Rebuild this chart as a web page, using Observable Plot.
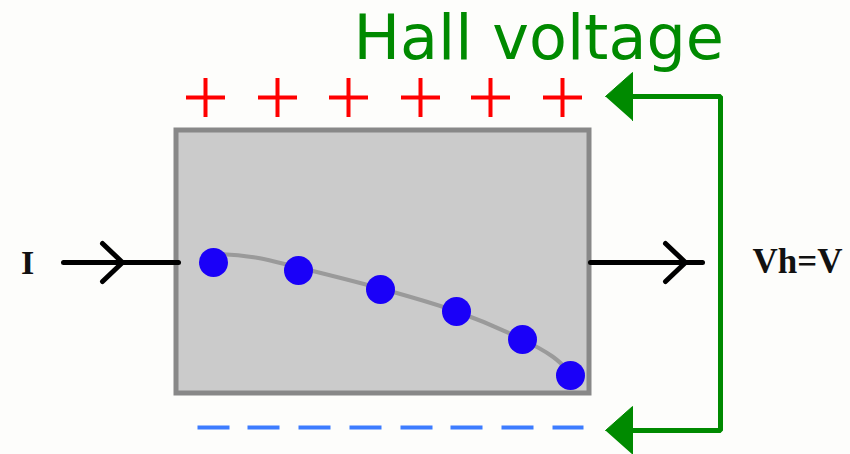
<!DOCTYPE html>
<html>
<head>
<meta charset="utf-8">
<script src="https://cdn.jsdelivr.net/npm/d3@7"></script>
<script src="https://cdn.jsdelivr.net/npm/@observablehq/plot@0.6"></script>
<style>
  html, body { margin: 0; padding: 0; background: #fdfdfb; }
  #chart svg { display: block; }
</style>
</head>
<body>
<div id="chart"></div>
<script>
// Diagram data (in the diagram's own coordinate space: x 0–850, y 0–454 downward)
const titleText = "Hall voltage";
const currentLabel = "I";
const voltageLabel = "Vh=V";

// conductor slab
const slab = [{x1: 176, x2: 589, y1: 130, y2: 393}];

// electrons (deflected path)
const electronX = [213, 298, 380, 456, 522, 570];
const electronY = [262, 270, 289, 311, 339, 375];

// trajectory guide curve
const pathX = [213, 255, 298, 380, 456, 522, 552, 570];
const pathY = [253, 257, 267, 288, 311, 339, 356, 372];

// positive charges (top edge)
const plusX = [205, 277, 348, 420, 490, 562];
const plusY = [97, 97, 97, 97, 97, 97];

// negative charges (bottom edge, dashes)
const minusX1 = [197, 247, 298, 349, 400, 450, 501, 552];
const minusX2 = [229, 279, 330, 381, 432, 482, 533, 583];
const minusY = 427;

// Hall voltage circuit
const wireX = [630, 720, 720, 630];
const wireY = [96, 96, 430, 430];
const arrowHeads = [
  {id: "top", pts: [[605, 96], [632, 72], [632, 120]]},
  {id: "bottom", pts: [[605, 430], [632, 406], [632, 454]]}
];

// current leads
const leads = [
  {x1: 63, x2: 178, y: 262, tipX: 122, backX: 102},
  {x1: 590, x2: 702, y: 262, tipX: 685, backX: 665}
];

const plusSize = 19.5;
const chevronHalf = 19;

const electrons = electronX.map((x, i) => ({x, y: electronY[i]}));
const guide = pathX.map((x, i) => ({x, y: pathY[i]}));
const pluses = plusX.map((x, i) => ({x, y: plusY[i]}));
const minuses = minusX1.map((x, i) => ({x1: x, x2: minusX2[i], y: minusY}));
const wire = wireX.map((x, i) => ({x, y: wireY[i]}));
const heads = arrowHeads.flatMap(a => a.pts.map(([x, y]) => ({id: a.id, x, y})));
const chevrons = leads.flatMap((l, i) => [
  {id: i, x: l.backX, y: l.y - chevronHalf},
  {id: i, x: l.tipX, y: l.y},
  {id: i, x: l.backX, y: l.y + chevronHalf}
]);

const chart = Plot.plot({
  width: 850,
  height: 454,
  margin: 0,
  style: {background: "#fdfdfb"},
  x: {domain: [0, 850], range: [0, 850], axis: null},
  y: {domain: [0, 454], range: [0, 454], axis: null},
  marks: [
    // title
    Plot.text([titleText], {
      x: () => 353, y: () => 58, text: d => d,
      fontSize: 62, fill: "#008a00", textAnchor: "start", lineAnchor: "bottom",
      fontFamily: "DejaVu Sans"
    }),
    // slab
    Plot.rect(slab, {x1: "x1", x2: "x2", y1: "y1", y2: "y2",
      fill: "#cbcbcb", stroke: "#888888", strokeWidth: 5}),
    // trajectory
    Plot.line(guide, {x: "x", y: "y", curve: "catmull-rom",
      stroke: "#9a9a9a", strokeWidth: 4}),
    // electrons
    Plot.dot(electrons, {x: "x", y: "y", r: 14.5, fill: "#1a00f8", stroke: "none"}),
    // positive charges
    Plot.link(pluses, {x1: d => d.x - plusSize, x2: d => d.x + plusSize, y1: "y", y2: "y",
      stroke: "#ff0000", strokeWidth: 4, strokeLinecap: "butt"}),
    Plot.link(pluses, {x1: "x", x2: "x", y1: d => d.y - plusSize, y2: d => d.y + plusSize,
      stroke: "#ff0000", strokeWidth: 4, strokeLinecap: "butt"}),
    // negative charges
    Plot.link(minuses, {x1: "x1", x2: "x2", y1: "y", y2: "y",
      stroke: "#3d7cff", strokeWidth: 4, strokeLinecap: "butt"}),
    // Hall circuit
    Plot.line(wire, {x: "x", y: "y", stroke: "#008a00", strokeWidth: 5,
      strokeLinejoin: "miter", strokeLinecap: "butt"}),
    Plot.line(heads, {x: "x", y: "y", z: "id", fill: "#008a00", stroke: "#008a00",
      strokeWidth: 1, strokeLinejoin: "round"}),
    // current leads
    Plot.link(leads, {x1: "x1", x2: "x2", y1: "y", y2: "y",
      stroke: "#000000", strokeWidth: 5, strokeLinecap: "round"}),
    Plot.line(chevrons, {x: "x", y: "y", z: "id", stroke: "#000000", strokeWidth: 5,
      strokeLinecap: "round", strokeLinejoin: "miter"}),
    // labels
    Plot.text([currentLabel], {x: () => 27, y: () => 263, text: d => d,
      fontSize: 34, fontWeight: "bold", fontFamily: "Liberation Serif", fill: "#111111",
      textAnchor: "middle"}),
    Plot.text([voltageLabel], {x: () => 752, y: () => 261, text: d => d,
      fontSize: 35, fontWeight: "bold", fontFamily: "Liberation Serif", fill: "#111111",
      textAnchor: "start"})
  ]
});
document.getElementById("chart").append(chart);
</script>
</body>
</html>
